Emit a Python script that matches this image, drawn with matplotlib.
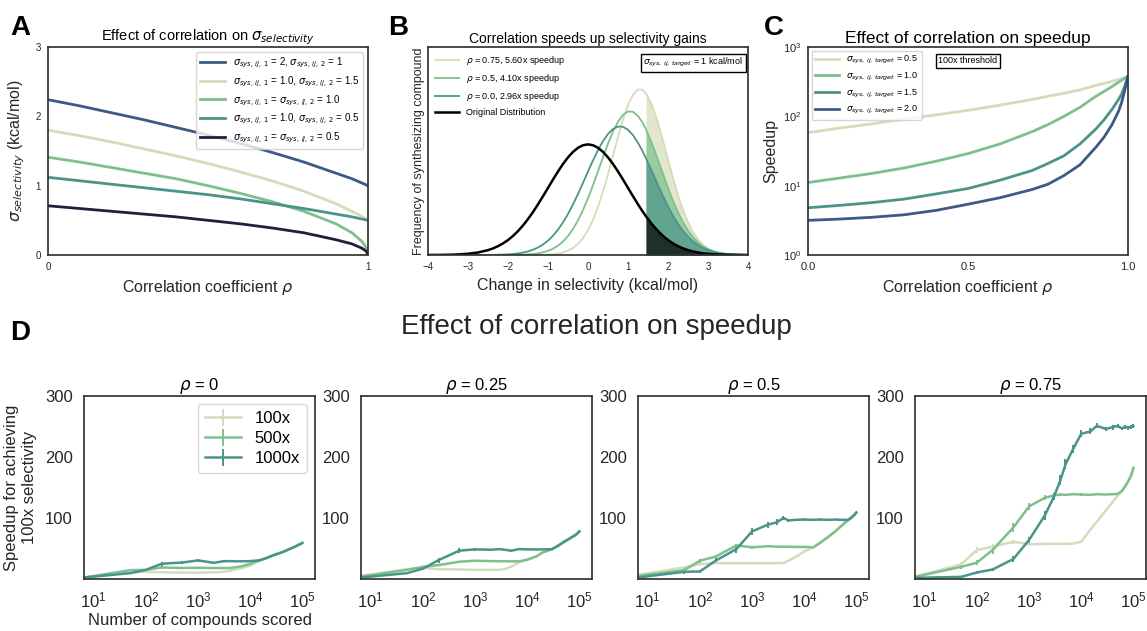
import matplotlib
matplotlib.use('Agg')
import matplotlib.pyplot as plt
from matplotlib.ticker import NullLocator, LogFormatterMathtext

# ---- panel A: sigma_selectivity vs correlation ----
rho_a = [0, .1, .2, .3, .4, .5, .6, .7, .8, .9, .95, .98, .99, .995, 1.0]
sel_2_1 = [2.24, 2.15, 2.05, 1.95, 1.84, 1.73, 1.61, 1.48, 1.34, 1.18, 1.10, 1.04, 1.02, 1.01, 1.0]
sel_1_15 = [1.80, 1.72, 1.63, 1.53, 1.43, 1.32, 1.20, 1.07, 0.92, 0.74, 0.63, 0.56, 0.53, 0.515, 0.5]
sel_1_1 = [1.41, 1.34, 1.26, 1.18, 1.10, 1.0, 0.89, 0.77, 0.63, 0.45, 0.32, 0.2, 0.14, 0.1, 0.0]
sel_1_05 = [1.12, 1.07, 1.02, 0.97, 0.92, 0.87, 0.81, 0.74, 0.67, 0.59, 0.55, 0.52, 0.51, 0.505, 0.5]
sel_05_05 = [0.71, 0.67, 0.63, 0.59, 0.55, 0.5, 0.45, 0.39, 0.32, 0.22, 0.16, 0.1, 0.07, 0.05, 0.0]
labels_a = [r'$\sigma_{sys,\,ij,\,1}$ = 2, $\sigma_{sys,\,ij,\,2}$ = 1',
            r'$\sigma_{sys,\,ij,\,1}$ = 1.0, $\sigma_{sys,\,ij,\,2}$ = 1.5',
            r'$\sigma_{sys,\,ij,\,1}$ = $\sigma_{sys,\,ij,\,2}$ = 1.0',
            r'$\sigma_{sys,\,ij,\,1}$ = 1.0, $\sigma_{sys,\,ij,\,2}$ = 0.5',
            r'$\sigma_{sys,\,ij,\,1}$ = $\sigma_{sys,\,ij,\,2}$ = 0.5']

# ---- panel B: selectivity distributions (relative frequency) ----
x_b = [-4, -3.75, -3.5, -3.25, -3, -2.75, -2.5,
       -2.375, -2.25, -2.125, -2, -1.875, -1.75, -1.625, -1.5, -1.375, -1.25, -1.125, -1,
       -0.875, -0.75, -0.625, -0.5, -0.375, -0.25, -0.125, 0, 0.125, 0.25, 0.375, 0.5,
       0.625, 0.75, 0.875, 1, 1.125, 1.25,
       1.35, 1.45, 1.6, 1.75,
       1.875, 2, 2.125, 2.25, 2.375, 2.5, 2.625, 2.75, 2.875, 3, 3.125, 3.25, 3.375,
       3.5, 3.75, 4]
freq_orig = [0.0003, 0.0009, 0.0022, 0.0051, 0.0111, 0.0228, 0.0439,
             0.0596, 0.0796, 0.1046, 0.1353, 0.1724, 0.2163, 0.2671, 0.3247, 0.3886, 0.4578,
             0.5311, 0.6065, 0.6819, 0.7548, 0.8226, 0.8825, 0.9321, 0.9692, 0.9922, 1.0,
             0.9922, 0.9692, 0.9321, 0.8825, 0.8226, 0.7548, 0.6819, 0.6065, 0.5311, 0.4578,
             0.4020, 0.3495, 0.2780, 0.2163,
             0.1724, 0.1353, 0.1046, 0.0796, 0.0596, 0.0439, 0.0319, 0.0228, 0.0160, 0.0111,
             0.0076, 0.0051, 0.0034,
             0.0022, 0.0009, 0.0003]
freq_rho0 = [0, 0, 0, 0, 0.0001, 0.0002, 0.0007,
             0.0013, 0.0022, 0.0036, 0.0058, 0.0092, 0.0144, 0.0219, 0.0325, 0.0475, 0.068,
             0.095, 0.130, 0.1744, 0.229, 0.2946, 0.371, 0.4574, 0.552, 0.652, 0.755,
             0.8547, 0.948, 1.0294, 1.094, 1.139, 1.161, 1.1586, 1.132, 1.0829, 1.014,
             0.948, 0.874, 0.7546, 0.632,
             0.5327, 0.440, 0.355, 0.281, 0.2174, 0.165, 0.1224, 0.089, 0.0633, 0.044,
             0.0301, 0.020, 0.0132,
             0.0084, 0.0032, 0.0011]
freq_rho05 = [0, 0, 0, 0, 0, 0, 0,
              0.0001, 0.0001, 0.0003, 0.0005, 0.001, 0.0018, 0.0031, 0.0054, 0.0091, 0.015,
              0.0241, 0.0375, 0.0571, 0.0846, 0.122, 0.171, 0.2347, 0.313, 0.4057, 0.513,
              0.6318, 0.757, 0.8853, 1.006, 1.1163, 1.204, 1.2669, 1.297, 1.2939, 1.256,
              1.205, 1.136, 1.0072, 0.859,
              0.7323, 0.607, 0.4905, 0.386, 0.2958, 0.221, 0.1604, 0.1135, 0.0784, 0.0526,
              0.0344, 0.022, 0.0136,
              0.0082, 0.0028, 0.0008]
freq_rho075 = [0, 0, 0, 0, 0, 0, 0,
               0, 0, 0, 0, 0, 0, 0.0001, 0.0002, 0.0005, 0.001,
               0.002, 0.0039, 0.0073, 0.0133, 0.0232, 0.0392, 0.0639, 0.1005, 0.1527, 0.224,
               0.3174, 0.434, 0.5729, 0.730, 0.8985, 1.067, 1.2242, 1.356, 1.4492, 1.496,
               1.4958, 1.462, 1.3556, 1.194,
               1.0341, 0.864, 0.6975, 0.543, 0.4088, 0.297, 0.2082, 0.141, 0.0921, 0.058,
               0.0354, 0.0208, 0.0118,
               0.0065, 0.0018, 0.0004]
threshold_b = 1.45
labels_b = [r'$\rho$ = 0.75, 5.60x speedup', r'$\rho$ = 0.5, 4.10x speedup',
            r'$\rho$ = 0.0, 2.96x speedup', 'Original Distribution']

# ---- panel C: speedup vs correlation ----
rho_c = [0, .1, .2, .3, .4, .5, .6, .7, .75, .8, .85, .9, .925, .95, .97, .98, .99, 1.0]
speed_05 = [58, 68, 78, 91, 105, 122, 145, 175, 195, 215, 240, 280, 299, 320, 339, 351, 363, 378]
speed_10 = [11.1, 12.9, 15, 18, 22.5, 29, 40, 60, 76, 100, 135, 195, 229, 269, 309, 331, 355, 378]
speed_15 = [4.8, 5.2, 5.7, 6.4, 7.6, 9.1, 12, 16.5, 20.9, 27, 40, 66, 89, 126, 174, 209, 275, 378]
speed_20 = [3.16, 3.3, 3.5, 3.8, 4.4, 5.4, 6.7, 8.8, 10.5, 14, 20, 36, 50, 76, 117, 158, 240, 378]
labels_c = [r'$\sigma_{sys,\,ij,\,target}$ = 0.5', r'$\sigma_{sys,\,ij,\,target}$ = 1.0',
            r'$\sigma_{sys,\,ij,\,target}$ = 1.5', r'$\sigma_{sys,\,ij,\,target}$ = 2.0']

# ---- panel D: speedup vs number of compounds scored ----
rho_d = ['0', '0.25', '0.5', '0.75']
n_scored = [6.5, 50, 100, 200, 500, 1000, 2000, 3000, 4000, 5000, 7000, 10000, 15000,
            20000, 30000, 40000, 50000, 60000, 70000, 80000, 90000, 100000]
speed_100x = [
    [2.4, 10.6, 12, 11, 10.5, 10.5, 11, 11.7, 13.4, 15, 18, 22, 30.5, 34, 40, 43.5, 47, 50, 52.5, 55, 57, 59],
    [5, 16, 18.4, 16, 15.6, 15, 15, 15, 17, 20.6, 27, 31.6, 37, 43.7, 49, 55, 60.5, 64.5, 68, 71, 74, 78],
    [6.8, 19, 24.5, 26, 26, 26, 26, 26, 26, 30, 36.6, 45, 52, 59, 70, 78.5, 86, 92, 96.7, 100.5, 104.5, 109],
    [3.5, 24, 47.6, 53, 61, 57, 57.5, 57.5, 57.5, 57.5, 58, 61, 81, 94, 113, 126, 137, 144, 152, 160.5, 169, 182],
]
speed_500x = [
    [2.4, 14.5, 15, 19, 18, 18.5, 18, 18, 18, 19, 21, 25, 30.5, 34, 40, 43.5, 47, 50, 52.5, 55, 57, 59],
    [4, 15, 20, 22.8, 28.3, 30, 29.4, 29, 29, 29, 29, 31.6, 37, 43.7, 49, 55, 60.5, 64.5, 68, 71, 74, 78],
    [5, 14.5, 30, 36.6, 55, 52, 53.7, 53, 53, 53, 52.6, 52.6, 52, 59, 70, 78.5, 86, 92, 96.7, 100.5, 104.5, 109],
    [3.5, 20, 26.7, 47.6, 84.5, 119, 133, 137, 138.5, 138, 139, 138.5, 138, 139, 138.5, 139, 139.5, 144, 152, 160.5, 169, 182],
]
speed_1000x = [
    [2.4, 9.6, 15, 25, 27, 30.5, 26.6, 29, 29.4, 29, 29, 29.4, 30.5, 34, 40, 43.5, 47, 50, 52.5, 55, 57, 59],
    [2.4, 9.6, 17, 31, 46.5, 48.6, 48, 49, 47.5, 46.5, 49, 48.5, 48.5, 48.5, 49, 55, 60.5, 64.5, 68, 71, 74, 78],
    [2.4, 11.8, 12.3, 30, 49, 78, 89, 93, 100, 96, 97, 97.5, 97, 97.5, 97, 97.5, 97, 97, 97, 100.5, 104.5, 109],
    [1.9, 3.5, 10.7, 15.6, 32.7, 64, 104, 135, 162, 188, 213, 238, 242, 251, 246, 249, 251, 247, 249.5, 248, 249.5, 251],
]
err_100x = [
    [0, 1, 1, 1, 1, 1, 1, 0, 0, 0, 0, 0, 0, 0, 0, 0, 0, 0, 0, 0, 0, 0],
    [0, 1.5, 1.5, 1, 1, 1, 1, 0, 0, 0, 0, 0, 0, 0, 0, 0, 0, 0, 0, 0, 0, 0],
    [0, 2, 2, 1.5, 1, 1, 1, 1, 0, 0, 0, 0, 0, 0, 0, 0, 0, 0, 0, 0, 0, 0],
    [0, 4, 5, 4, 3, 2, 1.5, 1, 1, 1, 1, 0, 0, 0, 0, 0, 0, 0, 0, 0, 0, 0],
]
err_500x = [
    [0, 2, 2, 2, 1.5, 1.5, 1, 1, 1, 1, 0, 0, 0, 0, 0, 0, 0, 0, 0, 0, 0, 0],
    [0, 2, 2, 2, 2, 1.5, 1, 1, 1, 1, 1, 0, 0, 0, 0, 0, 0, 0, 0, 0, 0, 0],
    [0, 2, 3, 3, 3, 2, 1.5, 1.5, 1, 1, 1, 1, 0, 0, 0, 0, 0, 0, 0, 0, 0, 0],
    [0, 3, 4, 6, 7, 6, 4, 3, 2, 2, 2, 2, 1.5, 1.5, 1.5, 1.5, 1, 0, 0, 0, 0, 0],
]
err_1000x = [
    [0, 2, 2, 3, 2, 2, 1.5, 1.5, 1, 1, 1, 1, 0, 0, 0, 0, 0, 0, 0, 0, 0, 0],
    [0, 2, 3, 4, 4, 3, 2, 2, 1.5, 1.5, 1.5, 1.5, 1, 1, 0, 0, 0, 0, 0, 0, 0, 0],
    [0, 3, 3, 4, 6, 6, 5, 5, 4, 3, 2, 2, 2, 2, 1.5, 1.5, 1.5, 1.5, 1, 0, 0, 0],
    [0, 2, 3, 3, 5, 5, 7, 6, 8, 8, 7, 6, 5, 4, 4, 4, 3, 3, 3, 3, 3, 3],
]
labels_d = ['100x', '500x', '1000x']

beige = '#d5dcb9'
green = '#7dc08e'
teal = '#4a9489'
navy = '#3c5a85'
purple = '#291b3c'

plt.rcParams['font.family'] = ['Liberation Sans', 'DejaVu Sans']
plt.rcParams['mathtext.fontset'] = 'dejavusans'
plt.rcParams['axes.edgecolor'] = '#333333'
plt.rcParams['axes.linewidth'] = 1.25
for k in ['xtick.major.size', 'ytick.major.size', 'xtick.minor.size', 'ytick.minor.size']:
    plt.rcParams[k] = 0
plt.rcParams['xtick.color'] = '#262626'
plt.rcParams['ytick.color'] = '#262626'
plt.rcParams['axes.labelcolor'] = '#262626'
plt.rcParams['legend.edgecolor'] = '#cccccc'

fig = plt.figure(figsize=(11.47, 6.31), dpi=100)
W, H = 1147.0, 631.0


def box(l, t, r, b):
    return [l / W, 1 - b / H, (r - l) / W, (b - t) / H]


# A
ax = fig.add_axes(box(48, 47, 368, 255))
for ys, c, lab in zip([sel_2_1, sel_1_15, sel_1_1, sel_1_05, sel_05_05],
                      [navy, beige, green, teal, purple], labels_a):
    ax.plot(rho_a, ys, color=c, lw=2, label=lab)
ax.set_xlim(0, 1)
ax.set_ylim(0, 3)
ax.set_xticks([0, 1])
ax.set_yticks([0, 1, 2, 3])
ax.tick_params(labelsize=7, pad=5)
ax.set_title(r'Effect of correlation on $\sigma_{selectivity}$', fontsize=10.5, pad=3)
ax.set_xlabel(r'Correlation coefficient $\rho$', fontsize=11.5)
ax.set_ylabel(r'$\sigma_{selectivity}$ (kcal/mol)', fontsize=11.5, labelpad=6)
ax.legend(loc='upper right', fontsize=7, handlelength=2.6, borderaxespad=0.5,
          labelspacing=0.45, fancybox=True)

# B
bx = fig.add_axes(box(428, 47, 748, 255))
fills = [(freq_rho075, beige), (freq_rho05, green), (freq_rho0, teal), (freq_orig, 'black')]
for ys, c in fills:
    bx.fill_between(x_b, 0, ys, where=[x >= threshold_b for x in x_b],
                    color=c, alpha=0.7, lw=0)
bx.plot(x_b, freq_rho075, color=beige, lw=1.3, label=labels_b[0])
bx.plot(x_b, freq_rho05, color=green, lw=1.3, label=labels_b[1])
bx.plot(x_b, freq_rho0, color=teal, lw=1.3, label=labels_b[2])
bx.plot(x_b, freq_orig, color='black', lw=1.8, label=labels_b[3])
bx.set_xlim(-4, 4)
bx.set_ylim(0, 1.88)
bx.set_yticks([])
bx.set_xticks(range(-4, 5))
bx.tick_params(labelsize=7, pad=5)
bx.set_title('Correlation speeds up selectivity gains', fontsize=10, pad=3)
bx.set_xlabel('Change in selectivity (kcal/mol)', fontsize=11.5)
bx.set_ylabel('Frequency of synthesizing compound', fontsize=9, labelpad=2)
bx.legend(loc='upper left', fontsize=6.5, frameon=False, handlelength=2.6,
          borderaxespad=0.4, labelspacing=0.55)
bx.text(0.985, 0.955, r'$\sigma_{sys,\,ij,\,target}$ = 1 kcal/mol', transform=bx.transAxes,
        ha='right', va='top', fontsize=6.5,
        bbox=dict(boxstyle='square,pad=0.3', fc='white', ec='black', lw=1))

# C
cx = fig.add_axes(box(808, 47, 1128, 255))
for ys, c, lab in zip([speed_05, speed_10, speed_15, speed_20],
                      [beige, green, teal, navy], labels_c):
    cx.plot(rho_c, ys, color=c, lw=2, label=lab)
cx.set_yscale('log')
cx.set_ylim(1, 1000)
cx.set_xlim(0, 1)
cx.yaxis.set_minor_locator(NullLocator())
cx.set_xticks([0, 0.5, 1.0])
cx.set_xticklabels(['0.0', '0.5', '1.0'])
cx.tick_params(labelsize=8, pad=5)
cx.set_title('Effect of correlation on speedup', fontsize=12.5, pad=3)
cx.set_xlabel(r'Correlation coefficient $\rho$', fontsize=11.5)
cx.set_ylabel('Speedup', fontsize=11.5, labelpad=3)
cx.legend(loc='upper left', fontsize=6.5, handlelength=2.6, borderaxespad=0.4,
          labelspacing=0.5, fancybox=True)
cx.text(0.5, 0.955, '100x threshold', transform=cx.transAxes, ha='center', va='top',
        fontsize=6.5, bbox=dict(boxstyle='square,pad=0.3', fc='white', ec='black', lw=1))

# D
lefts = [84, 361, 638, 915]
for i, left in enumerate(lefts):
    dx = fig.add_axes(box(left, 396, left + 231, 579))
    for ys, es, c, lab in zip([speed_100x[i], speed_500x[i], speed_1000x[i]],
                              [err_100x[i], err_500x[i], err_1000x[i]],
                              [beige, green, teal], labels_d):
        dx.errorbar(n_scored, ys, yerr=es, color=c, lw=1.8, elinewidth=1.4,
                    capsize=0, label=lab)
    dx.set_xscale('log')
    dx.set_xlim(6.5, 1.75e5)
    dx.set_ylim(0, 300)
    dx.set_yticks([100, 200, 300])
    dx.set_xticks([1e1, 1e2, 1e3, 1e4, 1e5])
    dx.xaxis.set_major_formatter(LogFormatterMathtext())
    dx.xaxis.set_minor_locator(NullLocator())
    dx.tick_params(labelsize=12, pad=8)
    dx.set_title(r'$\rho$ = ' + rho_d[i], fontsize=12, pad=3)
    if i == 0:
        dx.set_ylabel('Speedup for achieving\n100x selectivity', fontsize=12, labelpad=6)
        dx.set_xlabel('Number of compounds scored', fontsize=12, labelpad=2)
        dx.legend(loc='upper right', fontsize=12, handlelength=2.2, fancybox=True,
                  borderaxespad=0.5, labelspacing=0.3)

fig.text(596 / W, 1 - 327 / H, 'Effect of correlation on speedup', fontsize=20,
         ha='center', va='center', color='#262626')

for letter, x, y in [('A', 10, 35), ('B', 388, 35), ('C', 764, 35), ('D', 10, 340)]:
    fig.text(x / W, 1 - y / H, letter, fontsize=20, fontweight='bold', va='baseline')

fig.savefig('out.png', dpi=100)
